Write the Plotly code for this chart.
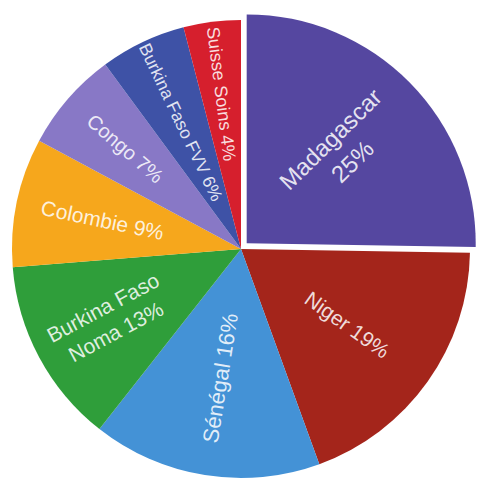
import plotly.graph_objects as go

# Share of patients by programme (percent)
labels = ["Madagascar", "Niger", "Sénégal", "Burkina Faso Noma",
          "Colombie", "Congo", "Burkina Faso FVV", "Suisse Soins"]
shares = [25, 19, 16, 13, 9, 7, 6, 4]
display_names = ["Madagascar<br>", "Niger ", "Sénégal ", "Burkina Faso<br>Noma ",
                 "Colombie ", "Congo ", "Burkina Faso FVV ", "Suisse Soins "]
pulls = [0.035, 0, 0, 0, 0, 0, 0, 0]

colors = ["#5547a0", "#a4251b", "#4492d6", "#2f9e3a",
          "#f6a71c", "#8878c6", "#3e52a6", "#d61f2d"]
font_sizes = [24, 21, 22, 21, 21, 20, 18, 18]

W, H = 479, 486
# Pie centre and radius in pixels, plus the room taken by the pulled slice
cx, cy, r = 241, 249, 229
half = r * (1 + max(pulls))

fig = go.Figure(go.Pie(
    labels=labels,
    values=shares,
    text=display_names,
    texttemplate="%{text}%{value}%",
    textinfo="text",
    textposition="inside",
    insidetextorientation="radial",
    insidetextfont=dict(family="Liberation Sans, Arial, sans-serif",
                        size=font_sizes, color="rgba(255,255,255,0.85)"),
    marker=dict(colors=colors, line=dict(width=0)),
    pull=pulls,
    sort=False,
    direction="clockwise",
    rotation=0,
    showlegend=False,
    hoverinfo="label+value",
    domain=dict(
        x=[max(0, (cx - half) / W), min(1, (cx + half) / W)],
        y=[max(0, (H - cy - half) / H), min(1, (H - cy + half) / H)],
    ),
))

fig.update_layout(
    width=W,
    height=H,
    margin=dict(l=0, r=0, t=0, b=0),
    paper_bgcolor="white",
    plot_bgcolor="white",
)

fig.write_html("out.html", config={"displayModeBar": False})
